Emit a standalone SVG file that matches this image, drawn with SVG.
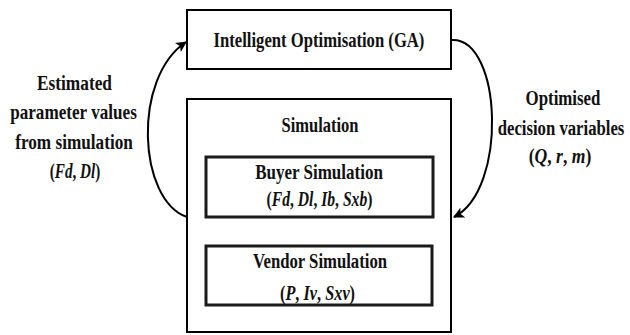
<svg xmlns="http://www.w3.org/2000/svg" width="630" height="335" viewBox="0 0 630 335">
  <style>
    .box { fill: #fff; stroke: #000; stroke-width: 2; }
    .inner { fill: #fff; stroke: #1a1a1a; stroke-width: 3; }
    .lbl { font-family: "Liberation Serif", "Times New Roman", serif; font-weight: bold; font-size: 22px; fill: #111; text-anchor: middle; }
    .it { font-style: italic; }
    .link { fill: none; stroke: #000; stroke-width: 2; }
  </style>
  <defs>
    <marker id="arrow" viewBox="0 0 10 10" refX="9" refY="5" markerWidth="5.5" markerHeight="5.5" orient="auto" markerUnits="strokeWidth">
      <path d="M0,0 L10,5 L0,10 L2.5,5 Z" fill="#000"/>
    </marker>
  </defs>
  <rect width="630" height="335" fill="#fff"/>

  <!-- feedback loop connectors -->
  <g id="connectors">
    <path class="link" d="M187,217 C138,200 132,78 186,42" marker-end="url(#arrow)"/>
    <path class="link" d="M452,40 C502,38 508,190 454,217" marker-end="url(#arrow)"/>
  </g>

  <!-- labels use a narrow horizontal scale for a condensed look -->
  <g id="optimiser">
    <rect class="box" x="187" y="10" width="264" height="59"/>
    <text class="lbl" transform="translate(319,47) scale(0.757,1)">Intelligent Optimisation (GA)</text>
  </g>

  <g id="simulation">
    <rect class="box" x="187" y="99" width="264" height="233"/>
    <text class="lbl" transform="translate(320,132) scale(0.75,1)">Simulation</text>
  </g>

  <g id="buyer">
    <rect class="inner" x="206" y="157" width="227" height="60"/>
    <text class="lbl" transform="translate(319,179) scale(0.773,1)">Buyer Simulation</text>
    <text class="lbl" transform="translate(319.5,206) scale(0.71,1)">(<tspan class="it">Fd</tspan>, <tspan class="it">Dl</tspan>, <tspan class="it">Ib</tspan>, <tspan class="it">Sxb</tspan>)</text>
  </g>

  <g id="vendor">
    <rect class="inner" x="206" y="246" width="226" height="59"/>
    <text class="lbl" transform="translate(320,268) scale(0.76,1)">Vendor Simulation</text>
    <text class="lbl" transform="translate(317.5,300) scale(0.74,1)">(<tspan class="it">P</tspan>, <tspan class="it">Iv</tspan>, <tspan class="it">Sxv</tspan>)</text>
  </g>

  <g id="label-estimated">
    <text class="lbl" transform="translate(74.5,90) scale(0.787,1)">Estimated</text>
    <text class="lbl" transform="translate(73.5,119) scale(0.779,1)">parameter values</text>
    <text class="lbl" transform="translate(74,149) scale(0.782,1)">from simulation</text>
    <text class="lbl" transform="translate(75,178) scale(0.69,1)">(<tspan class="it">Fd</tspan>, <tspan class="it">Dl</tspan>)</text>
  </g>

  <g id="label-optimised">
    <text class="lbl" transform="translate(563,105) scale(0.767,1)">Optimised</text>
    <text class="lbl" transform="translate(561,135) scale(0.76,1)">decision variables</text>
    <text class="lbl" transform="translate(560,163) scale(0.8,1)">(<tspan class="it">Q</tspan>, <tspan class="it">r</tspan>, <tspan class="it">m</tspan>)</text>
  </g>
</svg>
